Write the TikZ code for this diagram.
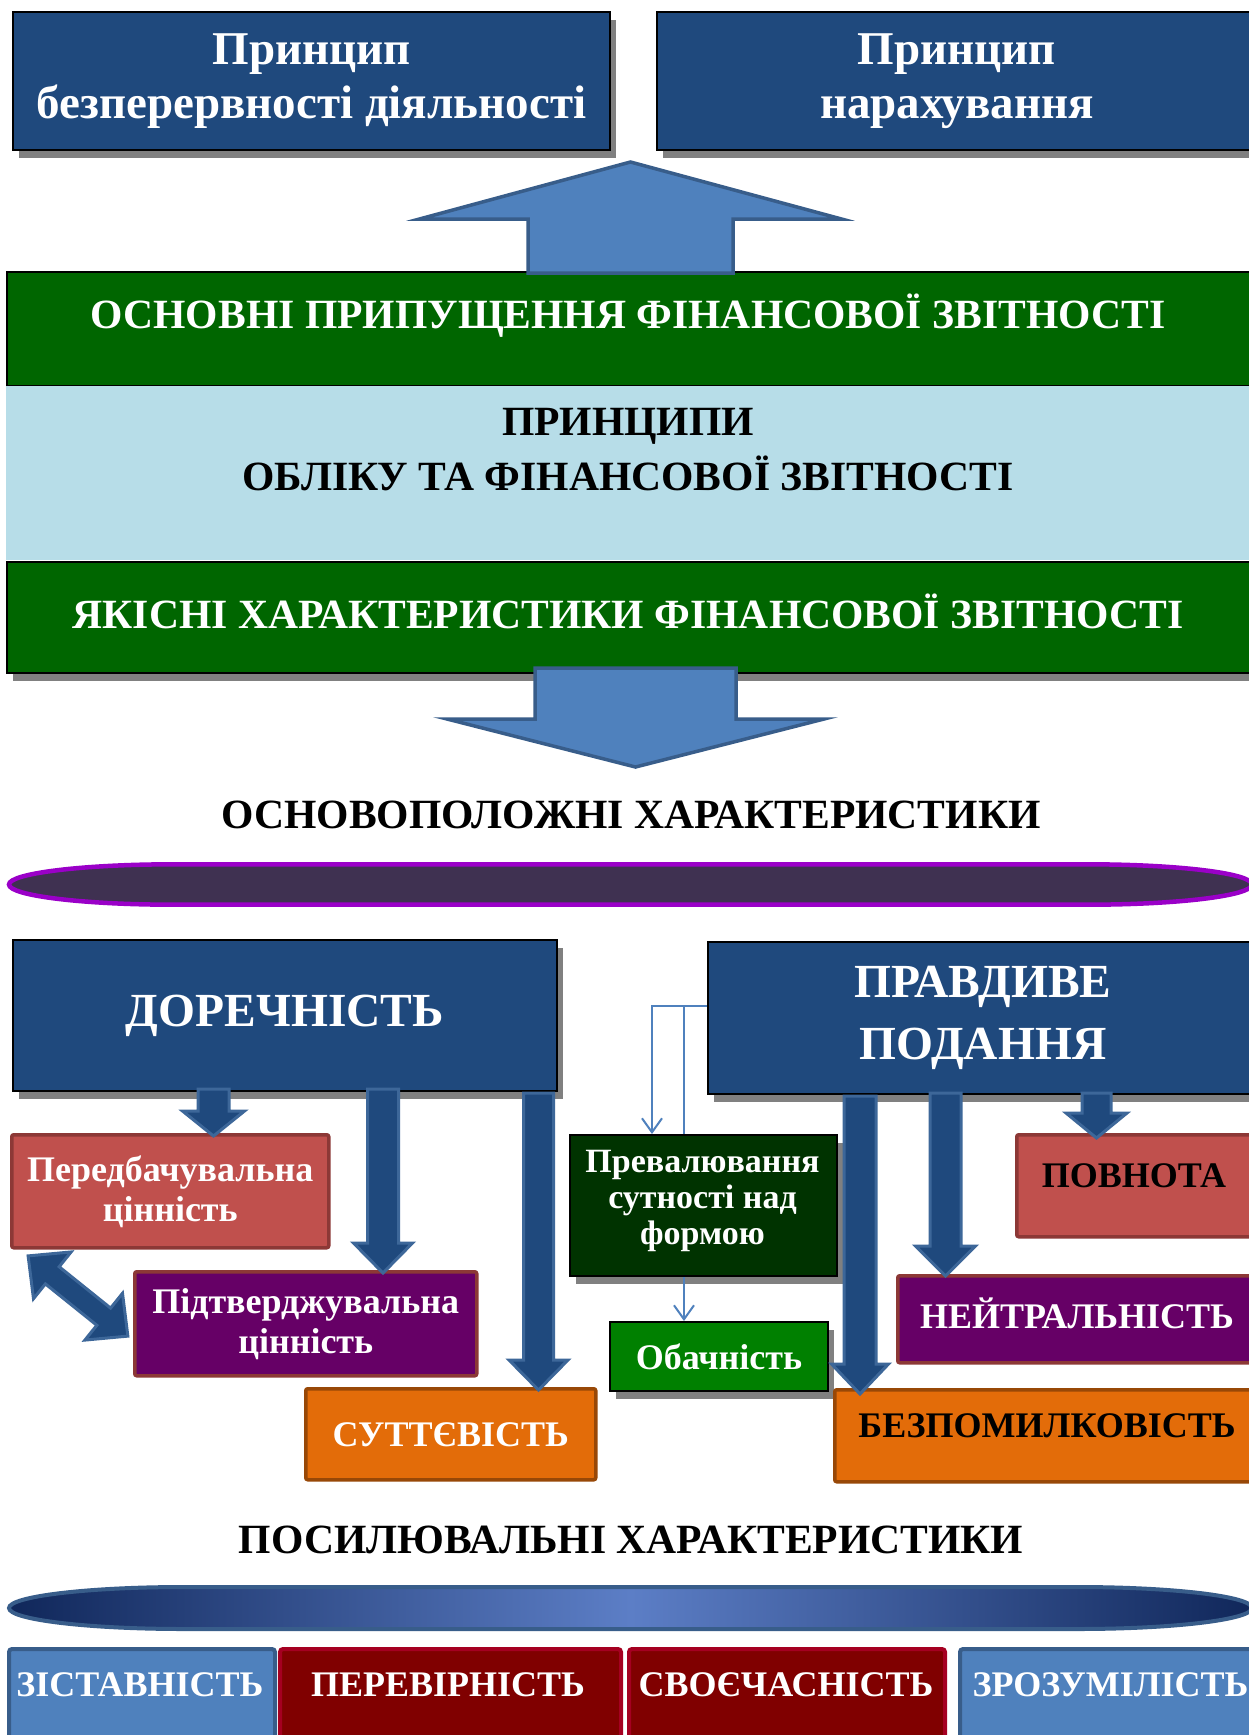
\documentclass[tikz,border=0pt]{standalone}
\usepackage{fontspec}
\setmainfont{Liberation Serif}
\usetikzlibrary{shadows,arrows.meta}
\definecolor{dblue}{HTML}{1F497D}
\definecolor{ablue}{HTML}{4F81BD}
\definecolor{ablueB}{HTML}{385D8A}
\definecolor{arrB}{HTML}{3D6799}
\definecolor{bgreen}{HTML}{006600}
\definecolor{lblue}{HTML}{B7DDE8}
\definecolor{epurp}{HTML}{3F3151}
\definecolor{epurpB}{HTML}{9A00C8}
\definecolor{coral}{HTML}{C0504D}
\definecolor{coralB}{HTML}{8C3836}
\definecolor{purp}{HTML}{660066}
\definecolor{orng}{HTML}{E36C09}
\definecolor{orngB}{HTML}{984807}
\definecolor{dgreen}{HTML}{003300}
\definecolor{mgreen}{HTML}{008000}
\definecolor{dred}{HTML}{800000}
\definecolor{dredB}{HTML}{A50021}
\definecolor{navy}{HTML}{10275A}
\definecolor{midb}{HTML}{5C7EC6}
\newcommand\ftop{\fontsize{47}{54}\selectfont\bfseries}
\newcommand\fband{\fontsize{41.6}{55}\selectfont\bfseries}
\newcommand\fbig{\fontsize{47.5}{62}\selectfont\bfseries}
\newcommand\fmid{\fontsize{36}{40}\selectfont\bfseries}
\newcommand\fsm{\fontsize{34}{36}\selectfont\bfseries}
\newcommand\fob{\fontsize{36}{40}\selectfont\bfseries}
\newcommand\fbot{\fontsize{36}{40}\selectfont\bfseries}
% vertical block arrow: style, x, y of tail, y of tip, shaft half width, head half width, head length
\newcommand\vblock[7]{%
  \draw[#1] ({#2-#5},#3) -- ({#2+#5},#3) -- ({#2+#5},{#4-#7}) -- ({#2+#6},{#4-#7}) -- (#2,#4) -- ({#2-#6},{#4-#7}) -- ({#2-#5},{#4-#7}) -- cycle;}
% elongated capsule: style, x left, x right, y centre, cap x radius, y radius
\newcommand\capsule[6]{%
  \path[#1] ({#2+#5},{#4-#6}) -- ({#3-#5},{#4-#6}) arc[start angle=-90, end angle=90, x radius=#5, y radius=#6] -- ({#2+#5},{#4+#6}) arc[start angle=90, end angle=270, x radius=#5, y radius=#6] -- cycle;}
\tikzset{
  shd/.style={drop shadow={shadow xshift=6pt, shadow yshift=-8pt, fill=black!50, opacity=1}},
  base/.style={inner sep=0pt, anchor=north west, align=center},
  dbox/.style={base, fill=dblue, draw=black, line width=2pt, text=white},
  band/.style={base, fill=bgreen, draw=black, line width=2pt},
  cbox/.style={base, line width=3.5pt, rounded corners=2pt},
  gbox/.style={base, draw=black, line width=2pt, text=white},
  bbox/.style={base, line width=4pt, rounded corners=3pt},
  bigarrow/.style={fill=ablue, draw=ablueB, line width=3.5pt, line join=miter},
  darrow/.style={fill=dblue, draw=arrB, line width=3pt, line join=miter},
  thinl/.style={draw=ablue, line width=2pt},
  tip/.style={-{Straight Barb[length=14pt,width=20pt]}},
  wt/.style={text=white},
  purpcap/.style={fill=epurp, draw=epurpB, line width=4.5pt},
  bluecap/.style={left color=navy, right color=navy, middle color=midb, draw=ablueB, line width=4pt},
}
\begin{document}
\begin{tikzpicture}[x=1pt,y=-1pt]
\useasboundingbox[fill=white] (0,0) rectangle (1248,1735);
% top boxes
\node[dbox, shd, minimum width=597pt, minimum height=138pt, font=\ftop] (p1) at (12,11) {Принцип\\безперервності діяльності};
\node[dbox, shd, minimum width=600pt, minimum height=138pt, font=\ftop] (p2) at (656,11) {Принцип\\нарахування};
% bands
\node[band, shd, minimum width=1250pt, minimum height=114pt] (b1) at (6,271) {};
\node[base, fill=lblue, minimum width=1250pt, minimum height=174pt] (lb) at (6,386) {};
\node[band, shd, minimum width=1250pt, minimum height=111pt] (b2) at (6,561) {};
\node[wt, font=\fband] (b1t) at (628,316) {ОСНОВНІ ПРИПУЩЕННЯ ФІНАНСОВОЇ ЗВІТНОСТІ};
\node[font=\fband, align=center] (lbt) at (628,450) {ПРИНЦИПИ\\ОБЛІКУ ТА ФІНАНСОВОЇ ЗВІТНОСТІ};
\node[wt, font=\fband] (b2t) at (628,611) {ЯКІСНІ ХАРАКТЕРИСТИКИ ФІНАНСОВОЇ ЗВІТНОСТІ};
% big arrows
\vblock{bigarrow}{630.5}{273}{162}{102.5}{211}{-57}
\vblock{bigarrow}{635.5}{668}{767}{100.5}{188.5}{48}
% fundamental characteristics
\node[font=\fband] (t1) at (631,815) {ОСНОВОПОЛОЖНІ ХАРАКТЕРИСТИКИ};
\capsule{purpcap}{9}{1252}{884.5}{165}{20.2}
\node[dbox, shd, minimum width=544pt, minimum height=151pt, font=\fbig] (dor) at (12,939) {ДОРЕЧНІСТЬ};
\node[dbox, shd, minimum width=550pt, minimum height=152pt, font=\fbig] (prav) at (707,941) {ПРАВДИВЕ\\ПОДАННЯ};
\node[cbox, fill=coral, draw=coralB, text=white, minimum width=317pt, minimum height=113pt, font=\fmid] (pred) at (10,1133) {Передбачувальна\\цінність};
\node[cbox, fill=purp, draw=coralB, text=white, minimum width=342pt, minimum height=104pt, font=\fmid] (pidt) at (133,1270) {Підтверджувальна\\цінність};
\node[cbox, fill=orng, draw=orngB, text=white, minimum width=290pt, minimum height=91pt, font=\fmid] (sutt) at (304,1387) {СУТТЄВІСТЬ};
\node[gbox, shd, fill=dgreen, minimum width=267pt, minimum height=141pt] (prev) at (569,1134) {};
\node[wt, font=\fsm, align=center] (prevt) at (702.5,1201) {Превалювання\\сутності над\\формою};
\node[gbox, shd, fill=mgreen, minimum width=218pt, minimum height=69pt, font=\fob] (obach) at (609,1321) {Обачність};
\node[cbox, fill=coral, draw=coralB, minimum width=245pt, minimum height=102pt] (povn) at (1015,1133) {};
\node[font=\fmid] (povnt) at (1134,1176) {ПОВНОТА};
\node[cbox, fill=purp, draw=coralB, minimum width=365pt, minimum height=87pt] (neit) at (896,1274) {};
\node[wt, font=\fmid] (neitt) at (1077,1313) {НЕЙТРАЛЬНІСТЬ};
\node[cbox, fill=orng, draw=orngB, minimum width=430pt, minimum height=92pt] (bezp) at (833,1388) {};
\node[font=\fmid] (bezpt) at (1047,1426) {БЕЗПОМИЛКОВІСТЬ};
% block arrows
\vblock{darrow}{213.5}{1089}{1136}{15.5}{31}{25}
\vblock{darrow}{383}{1089}{1273}{15.5}{29.5}{30}
\vblock{darrow}{538.5}{1093}{1390}{15}{29.5}{30}
\vblock{darrow}{860}{1096}{1394}{16}{28.5}{30}
\vblock{darrow}{945.5}{1093}{1276}{15.5}{30}{30}
\vblock{darrow}{1096.5}{1093}{1138}{14.5}{30.5}{25}
% double arrow between the two values
\begin{scope}[shift={(78,1296)}, rotate=-38.8]
\draw[darrow] (-64,0) -- (-33,30) -- (-33,11) -- (33,11) -- (33,30) -- (64,0) -- (33,-30) -- (33,-11) -- (-33,-11) -- (-33,-30) -- cycle;
\end{scope}
% thin connectors
\coordinate (j0) at (652,1006);
\coordinate (j1) at (684,1006);
\draw[thinl, tip] (prav.west |- j0) -- (j0) -- (prev.north -| j0);
\draw[thinl] (j1) -- (prev.north -| j1);
\draw[thinl, tip] (prev.south -| j1) -- (obach.north -| j1);
% enhancing characteristics
\node[font=\fband] (t2) at (631,1540) {ПОСИЛЮВАЛЬНІ ХАРАКТЕРИСТИКИ};
\capsule{bluecap}{9}{1252}{1608}{175}{21}
\node[bbox, fill=ablue, draw=ablueB, minimum width=266pt, minimum height=120pt] (zist) at (7,1647) {};
\node[bbox, fill=dred, draw=dredB, minimum width=341pt, minimum height=120pt] (perev) at (278,1647) {};
\node[bbox, fill=dred, draw=dredB, minimum width=316pt, minimum height=120pt] (svoe) at (627,1647) {};
\node[bbox, fill=ablue, draw=ablueB, minimum width=322pt, minimum height=120pt] (zroz) at (958,1647) {};
\node[wt, font=\fbot] (zistt) at (140,1685) {ЗІСТАВНІСТЬ};
\node[wt, font=\fbot] (perevt) at (448,1685) {ПЕРЕВІРНІСТЬ};
\node[wt, font=\fbot] (svoet) at (786,1685) {СВОЄЧАСНІСТЬ};
\node[wt, font=\fbot, anchor=west] (zrozt) at (969,1685) {ЗРОЗУМІЛІСТЬ};
\end{tikzpicture}
\end{document}
